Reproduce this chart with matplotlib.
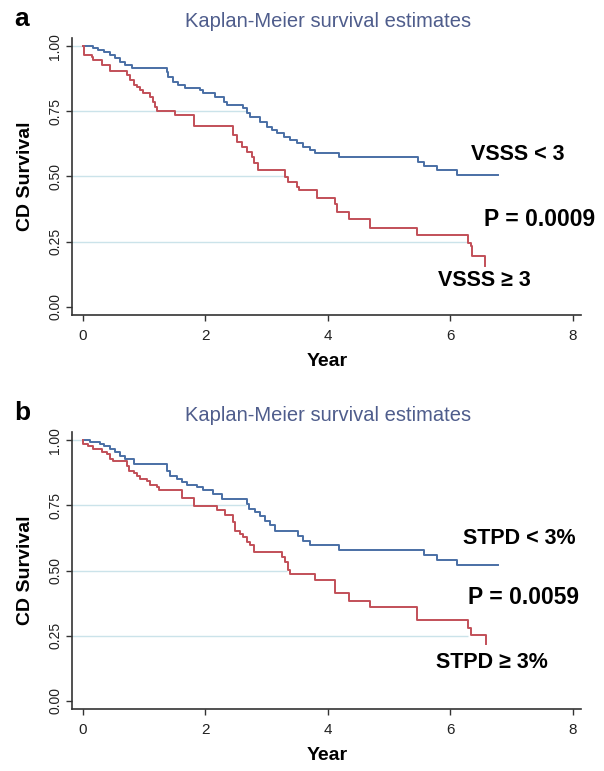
import matplotlib
matplotlib.use("Agg")
import matplotlib.pyplot as plt

# panel a: VSSS groups
a_blue_t = [0, 0.17, 0.25, 0.34, 0.45, 0.53, 0.61, 0.69, 0.80, 1.37, 1.40, 1.48, 1.56,
            1.67, 1.92, 1.97, 2.16, 2.30, 2.35, 2.62, 2.68, 2.73, 2.90, 3.01, 3.09, 3.17,
            3.28, 3.39, 3.50, 3.60, 3.71, 3.80, 4.18, 5.48, 5.57, 5.78, 6.12, 6.79]
a_blue_s = [1.0, 0.991, 0.985, 0.978, 0.966, 0.953, 0.940, 0.927, 0.917, 0.902, 0.882,
            0.863, 0.851, 0.840, 0.831, 0.819, 0.806, 0.787, 0.774, 0.761, 0.742, 0.729,
            0.710, 0.691, 0.678, 0.666, 0.652, 0.640, 0.627, 0.614, 0.602, 0.589, 0.576,
            0.557, 0.542, 0.525, 0.506, 0.506]
a_red_t = [0, 0.02, 0.15, 0.17, 0.31, 0.45, 0.72, 0.77, 0.83, 0.88, 0.94, 0.99, 1.10,
           1.15, 1.18, 1.21, 1.51, 1.81, 2.46, 2.52, 2.60, 2.68, 2.76, 2.79, 2.87, 3.31,
           3.36, 3.50, 3.53, 3.82, 4.12, 4.16, 4.35, 4.69, 5.46, 6.30, 6.34, 6.36, 6.57]
a_red_s = [1.0, 0.966, 0.959, 0.946, 0.927, 0.905, 0.889, 0.870, 0.851, 0.842, 0.831,
           0.819, 0.806, 0.787, 0.767, 0.751, 0.736, 0.693, 0.659, 0.633, 0.614, 0.595,
           0.576, 0.551, 0.525, 0.499, 0.480, 0.461, 0.448, 0.416, 0.395, 0.362, 0.337,
           0.303, 0.274, 0.245, 0.232, 0.195, 0.157]

# panel b: STPD groups
b_blue_t = [0, 0.12, 0.28, 0.34, 0.45, 0.53, 0.61, 0.69, 0.83, 1.37, 1.43, 1.54, 1.62,
            1.70, 1.86, 1.97, 2.13, 2.28, 2.68, 2.71, 2.81, 2.90, 2.98, 3.06, 3.14, 3.52,
            3.60, 3.71, 4.18, 5.57, 5.78, 6.12, 6.79]
b_blue_s = [1.0, 0.991, 0.985, 0.978, 0.966, 0.953, 0.940, 0.927, 0.908, 0.883, 0.864,
            0.851, 0.838, 0.829, 0.819, 0.810, 0.795, 0.775, 0.755, 0.736, 0.725, 0.708,
            0.690, 0.673, 0.653, 0.634, 0.615, 0.596, 0.577, 0.558, 0.539, 0.520, 0.520]
b_red_t = [0, 0.01, 0.09, 0.17, 0.31, 0.39, 0.45, 0.50, 0.72, 0.75, 0.83, 0.88, 0.94,
           1.05, 1.10, 1.21, 1.24, 1.62, 1.81, 2.19, 2.33, 2.46, 2.49, 2.57, 2.62, 2.68,
           2.73, 2.79, 3.25, 3.31, 3.36, 3.39, 3.80, 4.12, 4.35, 4.69, 5.46, 6.30, 6.34, 6.58]
b_red_s = [1.0, 0.985, 0.978, 0.966, 0.953, 0.947, 0.927, 0.918, 0.902, 0.883, 0.872,
           0.864, 0.851, 0.842, 0.829, 0.819, 0.809, 0.778, 0.749, 0.733, 0.711, 0.685,
           0.653, 0.641, 0.628, 0.609, 0.596, 0.571, 0.551, 0.532, 0.501, 0.488, 0.462,
           0.412, 0.383, 0.360, 0.310, 0.280, 0.252, 0.218]

x_ticks = [0, 2, 4, 6, 8]
y_ticks = [0, 0.25, 0.5, 0.75, 1.0]
y_ticklabels = ["0.00", "0.25", "0.50", "0.75", "1.00"]
grid_levels = [0.25, 0.5, 0.75, 1.0]
grid_ends = [6.3, 3.33, 2.66, 0.0]

title = "Kaplan-Meier survival estimates"
panels = [
    ("a", a_blue_t, a_blue_s, a_red_t, a_red_s, "VSSS < 3", "P = 0.0009", "VSSS \u2265 3"),
    ("b", b_blue_t, b_blue_s, b_red_t, b_red_s, "STPD < 3%", "P = 0.0059", "STPD \u2265 3%"),
]
# label centres in pixels (panel a / panel b)
label_pos = [
    [(518, 154), (540, 220), (484, 280)],
    [(519, 538), (523, 597), (492, 662)],
]

W, H = 604, 771
BLUE = "#4a6fa5"
RED = "#c24f58"
SANS = ["Liberation Sans", "DejaVu Sans"]
NARROW = ["Liberation Sans Narrow", "Liberation Sans", "DejaVu Sans"]


def fx(px):
    return px / W


def fy(py):
    return 1 - py / H


fig = plt.figure(figsize=(W / 100, H / 100), dpi=100)

for i, (tag, bt, bs, rt, rs, lab_hi, lab_p, lab_lo) in enumerate(panels):
    dy = 394 * i
    ax = fig.add_axes([fx(72), fy(315 + dy), fx(580.5) - fx(72), (315 - 38) / H])
    ax.set_xlim(-0.175, 8.13)
    ax.set_ylim(-0.031, 1.031)

    ax.hlines(grid_levels, -0.175, grid_ends, color="#cbe3ea", lw=1.0, zorder=1)
    ax.step(bt, bs, where="post", color=BLUE, lw=1.4, zorder=3)
    ax.step(rt, rs, where="post", color=RED, lw=1.4, zorder=3)

    for side in ["top", "right"]:
        ax.spines[side].set_visible(False)
    for side in ["left", "bottom"]:
        ax.spines[side].set_color("#333333")
        ax.spines[side].set_linewidth(1.2)

    ax.set_xticks(x_ticks)
    ax.set_xticklabels([str(v) for v in x_ticks], family=NARROW, fontsize=11, color="#222222")
    ax.set_yticks(y_ticks)
    ax.set_yticklabels(y_ticklabels, family=NARROW, fontsize=10, color="#222222",
                       rotation=90, va="center")
    ax.tick_params(axis="x", length=4, width=1, color="#333333", pad=6)
    ax.tick_params(axis="y", length=4, width=1, color="#333333", pad=3)

    fig.text(fx(22), fy(19 + dy), tag, ha="center", va="center",
             fontsize=19, fontweight="bold", family=SANS)
    fig.text(fx(328), fy(21.7 + dy), title, ha="center", va="center",
             fontsize=14.5, color="#4f5d8c", family=SANS)
    fig.text(fx(25), fy(176 + dy), "CD Survival", ha="center", va="center",
             rotation=90, fontsize=14, fontweight="bold", family=SANS)
    fig.text(fx(327), fy(362 + dy), "Year", ha="center", va="center",
             fontsize=14, fontweight="bold", family=SANS)

    sizes = [15.5, 16.5, 15.5]
    for (px, py), txt, fs in zip(label_pos[i], [lab_hi, lab_p, lab_lo], sizes):
        fig.text(fx(px), fy(py), txt, ha="center", va="center",
                 fontsize=fs, fontweight="bold", family=SANS)

fig.savefig("out.png", dpi=100, facecolor="white")
